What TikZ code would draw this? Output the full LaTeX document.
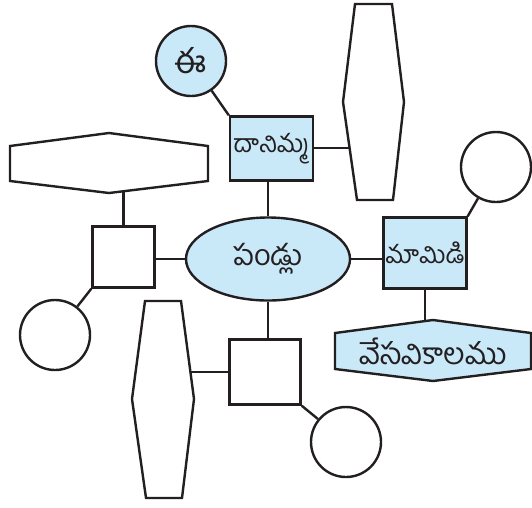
\documentclass[tikz,border=0pt]{standalone}
\usepackage{fontspec}
\usepackage{tikz}
\usetikzlibrary{shapes.geometric}
\newfontfamily\telugu[Script=Telugu]{Hind Guntur}
\newcommand{\tsize}[1]{\telugu\fontsize{#1}{#1}\selectfont}
\definecolor{ink}{HTML}{231F20}
\definecolor{paleblue}{HTML}{C9E9F9}
\tikzset{
	ln/.style={draw=ink, line width=2.4pt},
	tel/.style={font=\tsize{25}, text=ink},
	blue/.style={ln, fill=paleblue, tel, inner sep=0pt},
	ring/.style={ln, circle, minimum size=70pt, inner sep=0pt},
	sq/.style={ln, rectangle, inner sep=0pt},
}

\begin{document}
\begin{tikzpicture}[x=1pt,y=-1pt]
	\useasboundingbox (0,0) rectangle (532,507);
	\draw [ln] (355,4) -- (392,4) -- (404,102) -- (393,200) -- (357,200) -- (343,102) -- cycle;
	\draw [ln] (10,146) -- (109,133) -- (208,146) -- (208,181) -- (109,193) -- (10,181) -- cycle;
	\draw [ln] (145,301) -- (181,301) -- (194,399) -- (182,498) -- (146,498) -- (132,399) -- cycle;
	\draw [ln, fill=paleblue] (335,333) -- (433,320) -- (531,333) -- (531,369) -- (433,381) -- (335,369) -- cycle;
	\coordinate (h1) at (349.5,148);
	\coordinate (h2) at (123.5,191.2);
	\coordinate (h3) at (190.5,372);
	\coordinate (h4) at (425,321);
	\node [tel, font=\tsize{30}] (t4) at (433,351) {వేసవికాలము};
	\node (c1) [ring, blue, font=\tsize{34}] at (191,61) {ఈ};
	\node (c2) [ring] at (496,167) {};
	\node (c3) [ring] at (55,335) {};
	\node (c4) [ring] at (346,442) {};
	\node (s1) [sq, blue, minimum width=83pt, minimum height=64pt] at (271.5,148.5) {దానిమ్మ};
	\node (s2) [sq, blue, minimum width=83pt, minimum height=71pt] at (425,253) {మామిడి};
	\node (s3) [sq, minimum width=62pt, minimum height=61pt] at (123.5,257) {};
	\node (s4) [sq, minimum width=71pt, minimum height=65pt] at (265,372) {};
	\node (e1) [ellipse, blue, font=\tsize{29}, minimum width=164pt, minimum height=83pt] at (268,259) {పండ్లు};
	\draw [ln] (c1) to (s1.north west);
	\draw [ln] (s1.east |- h1) to (h1);
	\draw [ln] (e1.north) to (e1.north |- s1.south);
	\draw [ln] (e1.east) to (e1.east -| s2.west);
	\draw [ln] (s2.north east) to (c2);
	\draw [ln] (s2.south) to (h4);
	\draw [ln] (e1.west) to (e1.west -| s3.east);
	\draw [ln] (s3.north) to (h2);
	\draw [ln] (s3.south west) to (c3);
	\draw [ln] (e1.south) to (e1.south |- s4.north);
	\draw [ln] (s4.west) to (h3);
	\draw [ln] (s4.south east) to (c4);
\end{tikzpicture}
\end{document}
